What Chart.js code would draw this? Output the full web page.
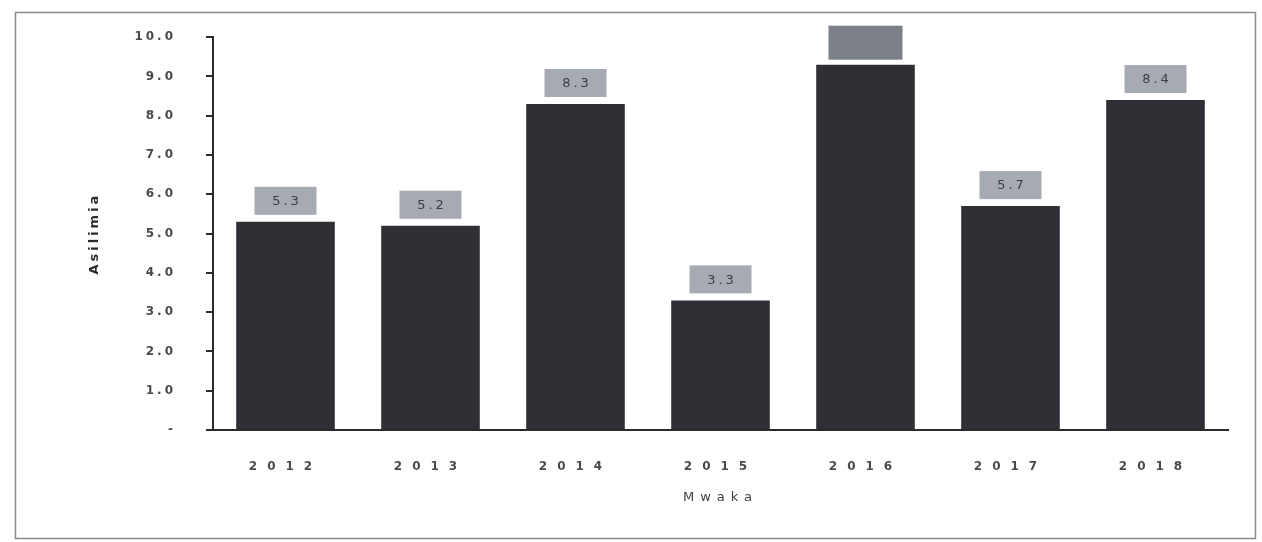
<!DOCTYPE html>
<html>
<head>
<meta charset="utf-8">
<script src="https://cdn.jsdelivr.net/npm/chart.js@4.4.1/dist/chart.umd.min.js"></script>
<style>
  html, body { margin: 0; padding: 0; background: #ffffff; }
  #wrap { position: relative; width: 1262px; height: 542px; }
</style>
</head>
<body>
<div id="wrap"><canvas id="c" width="1262" height="542"></canvas></div>
<script>
// ---- data ----
const years = ['2012', '2013', '2014', '2015', '2016', '2017', '2018'];
const values = [5.3, 5.2, 8.3, 3.3, 9.3, 5.7, 8.4];
const yTicks = [0, 1, 2, 3, 4, 5, 6, 7, 8, 9, 10];
const xTitle = 'Mwaka';
const yTitle = 'Asilimia';
const hiddenLabelIndex = 4; // label covered by a grey block in the source

function wrapSpacing(scale, tickSp, titleSp) {
  if (scale._spWrapped) return;
  scale._spWrapped = true;
  const dl = scale.drawLabels.bind(scale);
  scale.drawLabels = function (ca) {
    const ctx = this.ctx; const p = ctx.letterSpacing;
    ctx.letterSpacing = tickSp + 'px'; dl(ca); ctx.letterSpacing = p;
  };
  const dt = scale.drawTitle.bind(scale);
  scale.drawTitle = function (ca) {
    const ctx = this.ctx; const p = ctx.letterSpacing;
    ctx.letterSpacing = titleSp + 'px'; dt(ca); ctx.letterSpacing = p;
  };
}

const labelPlugin = {
  id: 'valueBoxes',
  afterDatasetsDraw(chart) {
    const ctx = chart.ctx;
    const meta = chart.getDatasetMeta(0);
    ctx.save();
    meta.data.forEach((bar, i) => {
      const v = values[i];
      let w = 62, h = 28, gap = 7, fill = '#a6aab2', tcol = '#3a3d44';
      if (i === hiddenLabelIndex) { w = 74; h = 34; gap = 5; fill = '#7c8088'; tcol = '#7c8088'; }
      const x = bar.x - w / 2;
      const y = bar.y - gap - h;
      ctx.fillStyle = fill;
      ctx.fillRect(x, y, w, h);
      ctx.fillStyle = tcol;
      ctx.font = '13px "DejaVu Sans"';
      ctx.letterSpacing = '3px';
      ctx.textAlign = 'center';
      ctx.textBaseline = 'middle';
      ctx.fillText(v.toFixed(1), bar.x + 1.5, y + h / 2 + 1);
    });
    ctx.restore();
  },
  afterDraw(chart) {
    const ctx = chart.ctx;
    ctx.save();
    ctx.strokeStyle = '#8a8a8a';
    ctx.lineWidth = 1.5;
    ctx.strokeRect(15.5, 12.5, 1240, 526);
    ctx.restore();
  }
};

new Chart(document.getElementById('c'), {
  type: 'bar',
  data: {
    labels: years,
    datasets: [{
      data: values,
      backgroundColor: '#2e3035',
      borderWidth: 0,
      barPercentage: 0.68,
      categoryPercentage: 1.0
    }]
  },
  options: {
    responsive: false,
    animation: false,
    devicePixelRatio: 1,
    layout: { padding: { top: 35, right: 34, left: 0, bottom: 0 } },
    plugins: { legend: { display: false }, tooltip: { enabled: false } },
    scales: {
      x: {
        offset: true,
        grid: { display: false },
        border: { display: true, color: '#2b2b2b', width: 2 },
        ticks: {
          color: '#4a4a4a',
          font: { family: '"DejaVu Sans"', size: 12, weight: 'bold' },
          padding: 22,
          maxRotation: 0
        },
        title: {
          display: true, text: xTitle, color: '#3f3f3f',
          font: { family: '"DejaVu Sans"', size: 13 },
          padding: { top: 0, bottom: 37 }
        },
        afterFit(s) { s.height = 112; wrapSpacing(s, 10, 6); }
      },
      y: {
        min: 0, max: 10,
        afterBuildTicks(s) { s.ticks = yTicks.map(v => ({ value: v })); },
        grid: { display: true, drawOnChartArea: false, drawTicks: true, tickLength: 7, color: '#2b2b2b', lineWidth: 2 },
        border: { display: true, color: '#2b2b2b', width: 2 },
        ticks: {
          color: '#4a4a4a',
          font: { family: '"DejaVu Sans"', size: 12, weight: 'bold' },
          padding: 30,
          callback: (v) => v === 0 ? '-' : Number(v).toFixed(1)
        },
        title: {
          display: true, text: yTitle, color: '#2b2b2b',
          font: { family: '"DejaVu Sans"', size: 13, weight: 'bold' },
          padding: { top: 87, bottom: 0 }
        },
        afterFit(s) { s.width = 213; wrapSpacing(s, 3, 3); }
      }
    }
  },
  plugins: [labelPlugin]
});
</script>
</body>
</html>
